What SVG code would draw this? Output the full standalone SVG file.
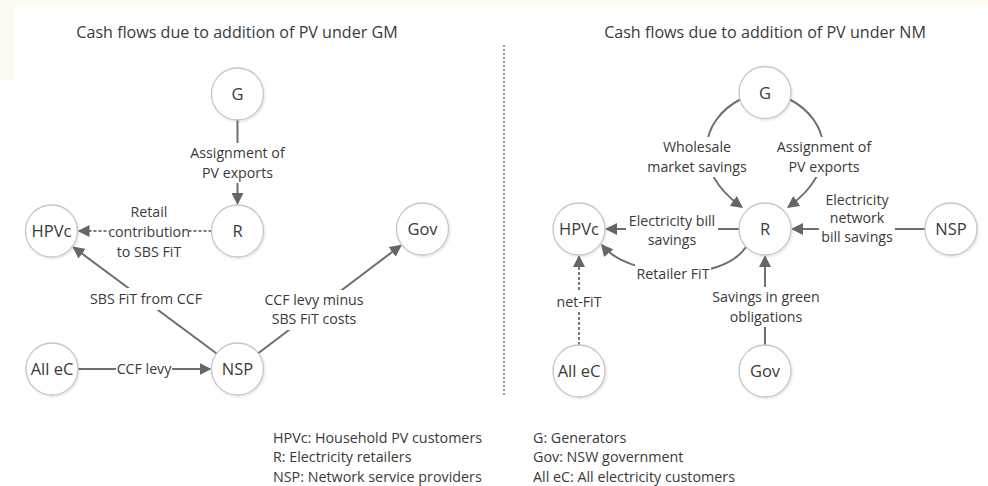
<svg xmlns="http://www.w3.org/2000/svg" width="988" height="486" viewBox="0 0 988 486">
<style>
.t{font-family:"Open Sans","Liberation Sans",sans-serif;fill:#3a3a3a}
.title{font-size:16.1px}
.lbl{font-size:14.2px;text-anchor:middle}
.nd{font-size:16.5px;text-anchor:middle}
.leg{font-size:14.3px}
.node circle{fill:#fff;stroke:#c6c6c6;stroke-width:1.3;filter:url(#sh)}
.e{fill:none;stroke:#6e6e6e;stroke-width:2}
.d{fill:none;stroke:#7a7a7a;stroke-width:2;stroke-dasharray:3 2}
.bg{fill:#fff}
</style>
<defs>
<filter id="sh" x="-20%" y="-20%" width="150%" height="150%">
<feDropShadow dx="1" dy="1.2" stdDeviation="1" flood-color="#000" flood-opacity="0.12"/>
</filter>
<marker id="a" viewBox="0 0 12 12" refX="10" refY="6" markerWidth="12" markerHeight="12" markerUnits="userSpaceOnUse" orient="auto">
<path d="M0,0 L12,6 L0,12 z" fill="#666"/>
</marker>
</defs>
<rect x="0" y="0" width="988" height="486" fill="#fffaf1"/>
<rect x="15" y="5" width="973" height="481" fill="#fff"/>
<rect x="0" y="80" width="15" height="406" fill="#fff"/>

<text class="t title" x="237" y="38" text-anchor="middle">Cash flows due to addition of PV under GM</text>
<text class="t title" x="765" y="38" text-anchor="middle">Cash flows due to addition of PV under NM</text>

<line x1="504" y1="45" x2="504" y2="397" stroke="#999" stroke-width="2" stroke-dasharray="2 2"/>

<g id="connectors">
<path class="e" d="M237.5,120 L237.5,203" marker-end="url(#a)"/>
<path class="d" d="M211.5,231 L79.5,231" marker-end="url(#a)"/>
<path class="e" d="M216.6,353.5 L74,247.7" marker-end="url(#a)"/>
<path class="e" d="M78,369 L209.5,369" marker-end="url(#a)"/>
<path class="e" d="M258.2,353.3 L400.2,245.9" marker-end="url(#a)"/>
<path class="e" d="M741,99 C700,120 690,170 741.4,206.8" marker-end="url(#a)"/>
<path class="e" d="M789,99 C830,120 840,170 788.6,206.8" marker-end="url(#a)"/>
<path class="e" d="M739,229 L607,229" marker-end="url(#a)"/>
<path class="e" d="M746,247 C720,285 628,277 602.3,245.5" marker-end="url(#a)"/>
<path class="e" d="M925,229 L793,229" marker-end="url(#a)"/>
<path class="e" d="M765,345 L765,257" marker-end="url(#a)"/>
<path class="d" d="M579,345 L579,257" marker-end="url(#a)"/>

<g id="labels">
<rect class="bg" x="187.5" y="143" width="100" height="40"/>
<text class="t lbl" x="237.5" y="158">Assignment of</text>
<text class="t lbl" x="237.5" y="178">PV exports</text>

<rect class="bg" x="109" y="203" width="80" height="58"/>
<text class="t lbl" x="149" y="217">Retail</text>
<text class="t lbl" x="149" y="237">contribution</text>
<text class="t lbl" x="149" y="257">to SBS FiT</text>

<rect class="bg" x="88" y="288" width="116" height="22"/>
<text class="t lbl" x="146" y="304">SBS FiT from CCF</text>

<rect class="bg" x="116" y="359" width="56" height="20"/>
<text class="t lbl" x="144" y="374">CCF levy</text>

<rect class="bg" x="263" y="290" width="102" height="40"/>
<text class="t lbl" x="314" y="305">CCF levy minus</text>
<text class="t lbl" x="314" y="324">SBS FiT costs</text>

<rect class="bg" x="649" y="137" width="96" height="40"/>
<text class="t lbl" x="697" y="152">Wholesale</text>
<text class="t lbl" x="697" y="172">market savings</text>

<rect class="bg" x="774" y="137" width="100" height="40"/>
<text class="t lbl" x="824" y="152">Assignment of</text>
<text class="t lbl" x="824" y="172">PV exports</text>

<rect class="bg" x="626" y="211" width="92" height="40"/>
<text class="t lbl" x="672" y="226">Electricity bill</text>
<text class="t lbl" x="672" y="245">savings</text>

<rect class="bg" x="635" y="264" width="76" height="20"/>
<text class="t lbl" x="673" y="279">Retailer FiT</text>

<rect class="bg" x="819" y="190" width="76" height="58"/>
<text class="t lbl" x="857" y="205">Electricity</text>
<text class="t lbl" x="857" y="223">network</text>
<text class="t lbl" x="857" y="242">bill savings</text>

<rect class="bg" x="711" y="287" width="110" height="40"/>
<text class="t lbl" x="766" y="302">Savings in green</text>
<text class="t lbl" x="766" y="322">obligations</text>

<rect class="bg" x="554" y="292" width="50" height="20"/>
<text class="t lbl" x="579" y="307">net-FiT</text>
</g>
</g>

<g id="node-G-gm" class="node"><circle cx="237.5" cy="94" r="26"/><text class="t nd" x="237.5" y="100">G</text></g>
<g id="node-R-gm" class="node"><circle cx="237.5" cy="231" r="26"/><text class="t nd" x="237.5" y="237">R</text></g>
<g id="node-HPVc-gm" class="node"><circle cx="51.5" cy="231" r="26"/><text class="t nd" x="51.5" y="237">HPVc</text></g>
<g id="node-Gov-gm" class="node"><circle cx="422.5" cy="229" r="26"/><text class="t nd" x="422.5" y="235">Gov</text></g>
<g id="node-AlleC-gm" class="node"><circle cx="52" cy="369" r="26"/><text class="t nd" x="52" y="375">All eC</text></g>
<g id="node-NSP-gm" class="node"><circle cx="237.5" cy="369" r="26"/><text class="t nd" x="237.5" y="375">NSP</text></g>

<g id="node-G-nm" class="node"><circle cx="765" cy="92.5" r="26"/><text class="t nd" x="765" y="98.5">G</text></g>
<g id="node-R-nm" class="node"><circle cx="765" cy="229" r="26"/><text class="t nd" x="765" y="235">R</text></g>
<g id="node-HPVc-nm" class="node"><circle cx="579" cy="229" r="26"/><text class="t nd" x="579" y="235">HPVc</text></g>
<g id="node-NSP-nm" class="node"><circle cx="951" cy="229" r="26"/><text class="t nd" x="951" y="235">NSP</text></g>
<g id="node-AlleC-nm" class="node"><circle cx="579" cy="371" r="26"/><text class="t nd" x="579" y="377">All eC</text></g>
<g id="node-Gov-nm" class="node"><circle cx="765" cy="371" r="26"/><text class="t nd" x="765" y="377">Gov</text></g>

<g id="legend">
<text class="t leg" x="273" y="443">HPVc: Household PV customers</text>
<text class="t leg" x="273" y="462">R: Electricity retailers</text>
<text class="t leg" x="273" y="482">NSP: Network service providers</text>
<text class="t leg" x="533" y="443">G: Generators</text>
<text class="t leg" x="533" y="462">Gov: NSW government</text>
<text class="t leg" x="533" y="482">All eC: All electricity customers</text>
</g>
</svg>
